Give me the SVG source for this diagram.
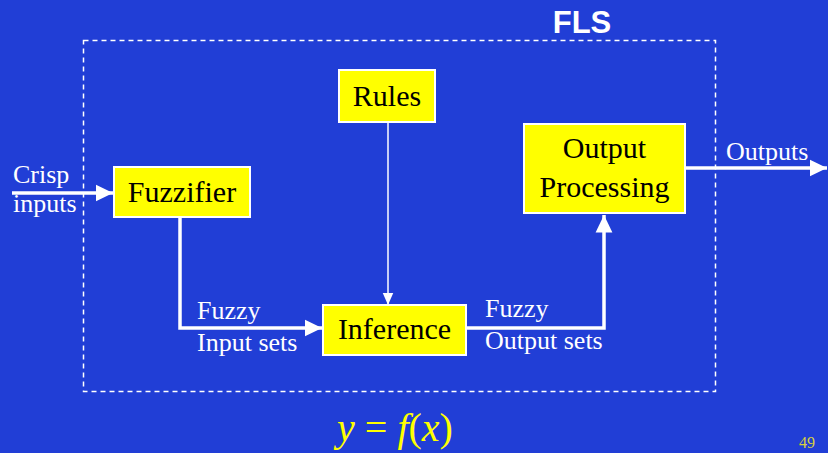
<svg xmlns="http://www.w3.org/2000/svg" width="828" height="453" viewBox="0 0 828 453">
<defs>
<style>
.box{fill:#FFFF00;stroke:#FFFFFF;stroke-width:2}
.bt{font-family:"Liberation Serif","Times New Roman",serif;font-size:30px;fill:#000;text-anchor:middle}
.lbl{font-family:"Liberation Serif","Times New Roman",serif;font-size:26px;fill:#FFFFFF}
.wire{fill:none;stroke:#FFFFFF;stroke-width:3.5}
.formula{font-family:"Liberation Serif","Times New Roman",serif;font-size:40px;fill:#FFFF00;text-anchor:middle}
</style>
<marker id="ah" markerWidth="6" markerHeight="6" refX="5" refY="3" orient="auto" markerUnits="strokeWidth" viewBox="0 0 6 6"><path d="M0,0.6 L5,3 L0,5.4 Z" fill="#FFFFFF"/></marker>
<marker id="ahs" markerWidth="8" markerHeight="8" refX="8" refY="4" orient="auto" markerUnits="strokeWidth" viewBox="0 0 8 8"><path d="M0,0.5 L8,4 L0,7.5 Z" fill="#FFFFFF"/></marker>
</defs>
<rect x="0" y="0" width="828" height="453" fill="#213ED6"/>
<g id="fls-boundary">
<rect x="83.5" y="40.5" width="632" height="351" fill="none" stroke="#FFFFFF" stroke-width="1.5" stroke-dasharray="5,4"/>
<text x="582" y="33" font-family="Liberation Sans,Arial,sans-serif" font-weight="bold" font-size="31" fill="#FFFFFF" text-anchor="middle">FLS</text>
</g>
<g id="connectors">
<path class="wire" d="M12,193 L113,193" marker-end="url(#ah)"/>
<path class="wire" d="M180,217 L180,328 L322,328" marker-end="url(#ah)"/>
<path fill="none" stroke="#FFFFFF" stroke-width="1.5" d="M388,122 L388,305" marker-end="url(#ahs)"/>
<path class="wire" d="M466,328 L604,328 L604,215" marker-end="url(#ah)"/>
<path class="wire" d="M685,168 L827,168" marker-end="url(#ah)"/>
</g>
<g id="rules">
<rect class="box" x="339" y="70" width="96" height="52"/>
<text class="bt" x="387" y="106">Rules</text>
</g>
<g id="fuzzifier">
<rect class="box" x="114" y="167" width="136" height="50"/>
<text class="bt" x="182" y="202">Fuzzifier</text>
</g>
<g id="inference">
<rect class="box" x="323" y="305" width="143" height="50"/>
<text class="bt" x="394.5" y="339">Inference</text>
</g>
<g id="output-processing">
<rect class="box" x="524" y="124" width="161" height="89"/>
<text class="bt" x="604.5" y="158">Output</text>
<text class="bt" x="604.5" y="197">Processing</text>
</g>
<g id="labels">
<text class="lbl" x="13" y="183">Crisp</text>
<text class="lbl" x="13" y="212">inputs</text>
<text class="lbl" x="197" y="319">Fuzzy</text>
<text class="lbl" x="197" y="351">Input sets</text>
<text class="lbl" x="485" y="317">Fuzzy</text>
<text class="lbl" x="485" y="349">Output sets</text>
<text class="lbl" x="726" y="160">Outputs</text>
</g>
<g id="formula">
<text class="formula" x="395" y="441"><tspan font-style="italic">y</tspan> = <tspan font-style="italic">f</tspan>(<tspan font-style="italic">x</tspan>)</text>
<text x="799" y="448" font-family="Liberation Serif,serif" font-size="16" fill="#D8D040">49</text>
</g>
</svg>
